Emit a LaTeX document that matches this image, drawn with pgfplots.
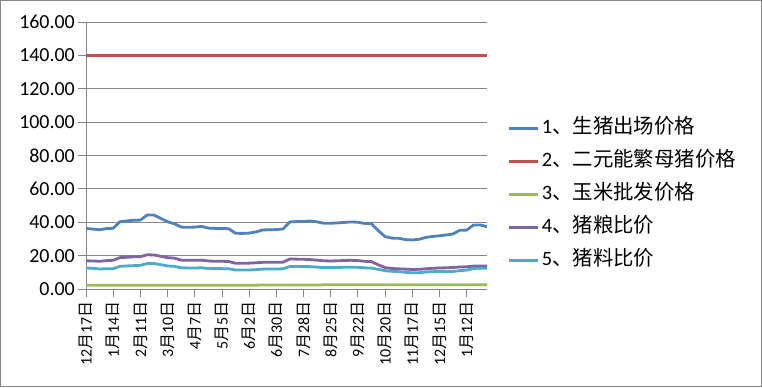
\documentclass[border=0pt]{standalone}
\usepackage{pgfplots}
\pgfplotsset{compat=1.18}
\usepackage{pgfplotstable}
\usepackage{fontspec}
\setmainfont{Carlito}
\newfontfamily\cjk{Noto Sans CJK SC}
\definecolor{sblue}{HTML}{4F81BD}
\definecolor{sred}{HTML}{C0504D}
\definecolor{sgreen}{HTML}{9BBB59}
\definecolor{spurple}{HTML}{8064A2}
\definecolor{scyan}{HTML}{4BACC6}
\definecolor{axgray}{HTML}{868686}
\newcommand\md[2]{#1{\cjk 月}#2{\cjk 日}}
\pgfplotstableread{
i a b c d e
0 36.3 140 2.3 16.9 12.6
1 35.9 140 2.3 16.8 12.4
2 35.5 140 2.3 16.6 12.0
3 36.2 140 2.3 17.0 12.1
4 36.4 140 2.3 17.2 12.2
5 40.3 140 2.3 18.8 13.6
6 40.8 140 2.3 19.0 13.8
7 41.2 140 2.3 19.3 14.0
8 41.3 140 2.3 19.4 14.2
9 44.3 140 2.3 20.5 15.2
10 44.3 140 2.3 20.4 15.3
11 42.3 140 2.3 19.6 14.6
12 40.3 140 2.3 18.8 13.8
13 39.1 140 2.3 18.5 13.6
14 37.1 140 2.3 17.3 12.7
15 37.0 140 2.3 17.2 12.6
16 37.1 140 2.3 17.2 12.6
17 37.5 140 2.3 17.3 12.7
18 36.5 140 2.3 16.8 12.3
19 36.3 140 2.3 16.6 12.2
20 36.3 140 2.3 16.6 12.2
21 36.1 140 2.3 16.5 12.1
22 33.4 140 2.3 15.4 11.4
23 33.3 140 2.3 15.4 11.4
24 33.5 140 2.3 15.5 11.4
25 34.2 140 2.3 15.7 11.6
26 35.4 140 2.4 16.0 11.9
27 35.5 140 2.4 16.0 12.0
28 35.6 140 2.4 16.0 12.0
29 36.0 140 2.4 16.1 12.1
30 40.2 140 2.4 18.0 13.5
31 40.4 140 2.4 17.9 13.5
32 40.5 140 2.4 17.8 13.4
33 40.8 140 2.4 17.6 13.4
34 40.2 140 2.4 17.3 13.1
35 39.4 140 2.5 16.9 12.8
36 39.4 140 2.5 16.8 12.8
37 39.6 140 2.5 16.9 12.9
38 39.9 140 2.5 17.1 13.0
39 40.2 140 2.5 17.2 13.1
40 40.0 140 2.5 17.0 13.0
41 39.3 140 2.5 16.6 12.7
42 39.1 140 2.5 16.4 12.5
43 35.0 140 2.5 14.5 11.8
44 31.4 140 2.5 12.8 11.0
45 30.5 140 2.5 12.3 10.6
46 30.4 140 2.5 12.1 10.4
47 29.6 140 2.5 11.9 10.0
48 29.4 140 2.5 11.7 9.7
49 29.8 140 2.5 11.8 9.8
50 30.9 140 2.5 12.1 10.2
51 31.5 140 2.5 12.4 10.4
52 31.9 140 2.6 12.6 10.5
53 32.4 140 2.6 12.7 10.4
54 33.0 140 2.6 12.9 10.5
55 35.2 140 2.6 13.2 11.0
56 35.3 140 2.6 13.3 11.3
57 38.3 140 2.6 13.7 12.3
58 38.4 140 2.6 13.8 12.5
59 37.3 140 2.6 13.7 12.4
}\datatable
\begin{document}
\begin{tikzpicture}[x=1bp,y=1bp]
\path[use as bounding box] (0,0) rectangle (762,387);
\draw[axgray] (0.5,0.5) rectangle (761.5,386.5);
\begin{axis}[
  at={(86bp,98bp)}, anchor=south west,
  scale only axis, width=401bp, height=267bp,
  xmin=0, xmax=59, ymin=0, ymax=160,
  ytick={0,20,...,160},
  xtick={0,4,...,56},
  xticklabels={\md{12}{17},\md{1}{14},\md{2}{11},\md{3}{10},\md{4}{7},\md{5}{5},\md{6}{2},\md{6}{30},\md{7}{28},\md{8}{25},\md{9}{22},\md{10}{20},\md{11}{17},\md{12}{15},\md{1}{12}},
  axis x line*=bottom, axis y line*=left,
  axis line style={axgray, line width=0.8bp, -},
  ymajorgrids, grid style={axgray, line width=0.8bp},
  tick align=outside, major tick length=8bp,
  tick style={axgray, line width=0.8bp},
  /pgf/number format/.cd, fixed, fixed zerofill, precision=2, assume math mode=true,
  /pgfplots/.cd,
  yticklabel style={font=\fontsize{20}{21}\selectfont, inner sep=3bp},
  xticklabel style={font=\fontsize{16}{17}\selectfont, rotate=90, anchor=east, inner sep=4.5bp},
  legend cell align=left,
  legend style={at={(1.052,0.355)}, anchor=west, draw=none, fill=none,
    font=\fontsize{20.5}{21}\selectfont, inner sep=0pt, row sep=10bp,
    nodes={inner sep=2bp, text height=15bp, text depth=4bp}},
  legend image code/.code={\draw[#1, line width=2.8bp] (0bp,0bp) -- (29bp,0bp);},
  every axis plot/.append style={line width=2.8bp, no markers},
]
\addplot[sblue] table[x=i,y=a] {\datatable};
\addlegendentry{1{\cjk 、生猪出场价格}}
\addplot[sred] table[x=i,y=b] {\datatable};
\addlegendentry{2{\cjk 、二元能繁母猪价格}}
\addplot[sgreen] table[x=i,y=c] {\datatable};
\addlegendentry{3{\cjk 、玉米批发价格}}
\addplot[spurple] table[x=i,y=d] {\datatable};
\addlegendentry{4{\cjk 、猪粮比价}}
\addplot[scyan] table[x=i,y=e] {\datatable};
\addlegendentry{5{\cjk 、猪料比价}}
\end{axis}
\end{tikzpicture}
\end{document}
